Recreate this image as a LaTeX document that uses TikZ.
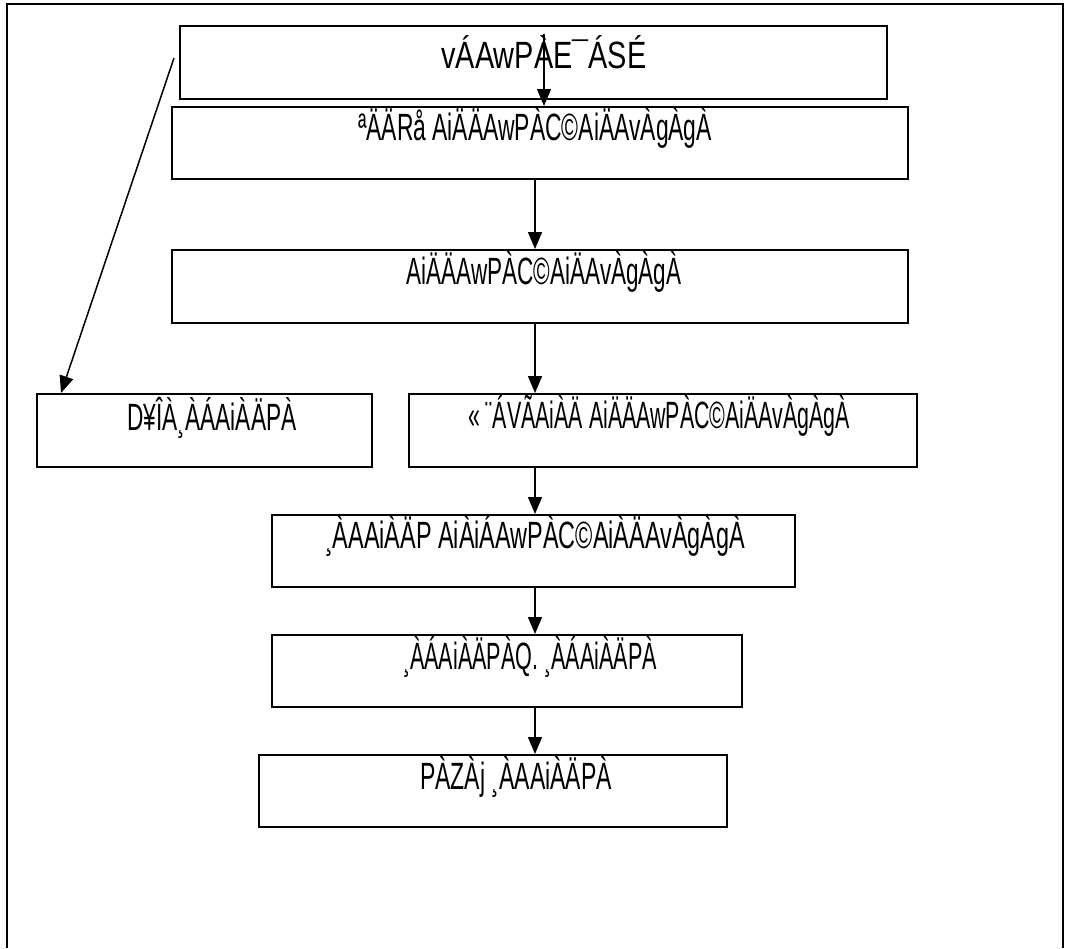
\documentclass[tikz,border=0pt]{standalone}
\usepackage{fontspec}
\usepackage{graphicx}
\setmainfont{Liberation Sans}
\usetikzlibrary{arrows.meta}
\newcommand{\gtxt}[2]{\resizebox{#1pt}{\height}{\fontsize{38}{38}\selectfont #2}}
\begin{document}
\begin{tikzpicture}[x=1pt,y=-1pt,
  stepbox/.style={draw=black,line width=2pt,inner sep=0pt,fill=none},
  lbl/.style={inner sep=0pt,anchor=center,text=black},
  arr/.style={line width=1.5pt,-{Triangle[length=17pt,width=14pt]}},
  frame/.style={line width=2.6pt}]
\useasboundingbox (0,0) rectangle (1065,948);
\draw[frame] (7,948) -- (7,4) -- (1063,4) -- (1063,948);
% boxes
\node[stepbox,minimum width=707pt,minimum height=73pt] (b1) at (533.5,62.5) {};
\node[stepbox,minimum width=736pt,minimum height=72pt] (b2) at (540,143) {};
\node[stepbox,minimum width=736pt,minimum height=73pt] (b3) at (540,286.5) {};
\node[stepbox,minimum width=335pt,minimum height=73pt] (b4) at (204.5,430.5) {};
\node[stepbox,minimum width=508pt,minimum height=73pt] (b5) at (663,430.5) {};
\node[stepbox,minimum width=523pt,minimum height=72pt] (b6) at (533.5,551) {};
\node[stepbox,minimum width=470pt,minimum height=72pt] (b7) at (507,671) {};
\node[stepbox,minimum width=468pt,minimum height=72pt] (b8) at (493,791) {};
% texts
\node[lbl] (t1) at (544,52) {\gtxt{205}{vÁAwPÀE¯ÁSÉ}};
\node[lbl] (t2) at (535,128) {\gtxt{354}{ªÄÄRå AiÄÄAwPÀC©AiÄAvÀgÀgÀ}};
\node[lbl] (t3) at (544,272) {\gtxt{275}{AiÄÄAwPÀC©AiÄAvÀgÀgÀ}};
\node[lbl] (t4) at (212,418) {\gtxt{169}{D¥ÎÀ¸ÀÁAiÀÄPÀ}};
\node[lbl] (t5) at (659,416) {\gtxt{382}{« ¨ÁVÃAiÀÄ AiÄÄAwPÀC©AiÄAvÀgÀgÀ}};
\node[lbl] (t6) at (535,536) {\gtxt{420}{¸ÀAAiÀÄP AiÀiÁAwPÀC©AiÀÄAvÀgÀgÀ}};
\node[lbl] (t7) at (530,657) {\gtxt{254}{¸ÀÁAiÀÄPÀQ. ¸ÀÁAiÀÄPÀ}};
\node[lbl] (t8) at (516,777) {\gtxt{192}{PÀZÀj ¸ÀAAiÀÄPÀ}};
% connectors
\coordinate (s1) at (544,34);
\coordinate (ax) at (535,0);
\coordinate (d0) at (174,58);
\draw[arr] (s1) -- (s1 |- b2.north);
\draw[arr] (b2.south -| ax) -- (b3.north -| ax);
\draw[arr] (b3.south -| ax) -- (b5.north -| ax);
\draw[arr] (b5.south -| ax) -- (b6.north -| ax);
\draw[arr] (b6.south -| ax) -- (b7.north -| ax);
\draw[arr] (b7.south -| ax) -- (b8.north -| ax);
\draw[arr] (d0) -- ([xshift=25pt]b4.north west);
\end{tikzpicture}
\end{document}
